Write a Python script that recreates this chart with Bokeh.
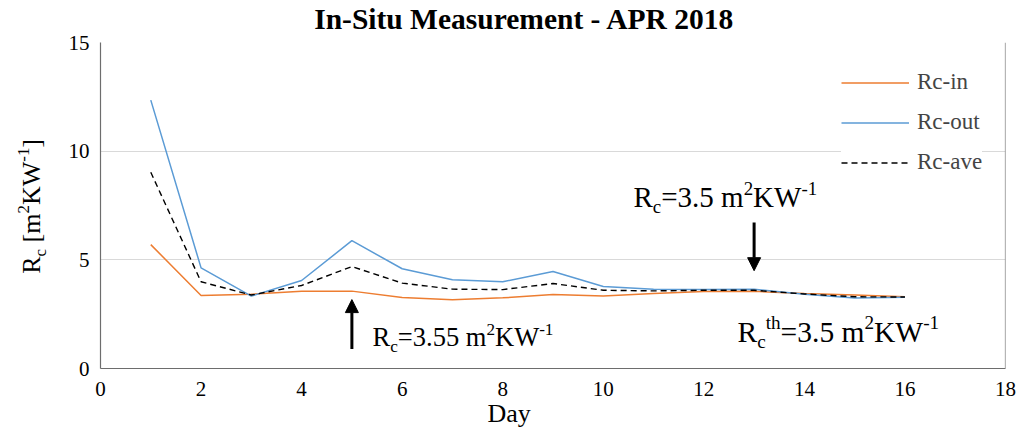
import math
from bokeh.plotting import figure
from bokeh.layouts import row, column
from bokeh.models import (Label, Arrow, NormalHead, FixedTicker, Legend,
                          LegendItem, Span, Title)
from bokeh.embed import file_html
from bokeh.resources import INLINE

# ---------------- data ----------------
days = list(range(1, 17))
rc_in = [5.70, 3.36, 3.42, 3.56, 3.56, 3.27, 3.16, 3.25, 3.40, 3.34, 3.45, 3.54, 3.55, 3.45, 3.38, 3.30]
rc_out = [12.35, 4.63, 3.33, 4.05, 5.88, 4.59, 4.08, 3.99, 4.46, 3.77, 3.65, 3.63, 3.65, 3.42, 3.24, 3.28]
rc_ave = [9.03, 3.99, 3.38, 3.82, 4.69, 3.93, 3.65, 3.63, 3.91, 3.60, 3.57, 3.60, 3.60, 3.43, 3.30, 3.29]
x_ticks = [0, 2, 4, 6, 8, 10, 12, 14, 16, 18]
y_ticks = [0, 5, 10, 15]
series_names = ["Rc-in", "Rc-out", "Rc-ave"]
title_text = "In-Situ Measurement - APR 2018"
x_title = "Day"
y_title = [("R", "n"), ("c", "sub"), (" [m", "n"), ("2", "sup"), ("KW", "n"), ("-1", "sup"), ("]", "n")]
note_low = [("R", "n"), ("c", "sub"), ("=3.55 m", "n"), ("2", "sup"), ("KW", "n"), ("-1", "sup")]
note_high = [("R", "n"), ("c", "sub"), ("=3.5 m", "n"), ("2", "sup"), ("KW", "n"), ("-1", "sup")]
note_th = [("R", "n"), ("c", "sub"), ("th", "sup"), ("=3.5 m", "n"), ("2", "sup"), ("KW", "n"), ("-1", "sup")]
arrow_up_day, arrow_up_from, arrow_up_to = 5, 0.9, 3.17
arrow_dn_day, arrow_dn_from, arrow_dn_to = 13, 6.72, 4.5

SERIF = "'Liberation Serif', 'Times New Roman', serif"
C_IN, C_OUT = "#ED7D31", "#5B9BD5"
BASE_FIX = 0.36  # label boxes sit this many ems below the requested baseline

TW = {'R': .667, 'c': .444, '=': .564, '.': .25, ' ': .25, 'm': .778, 'K': .722,
      'W': .944, '-': .333, 't': .278, 'h': .5, '[': .333, ']': .333}


def tw(s):
    return sum(TW.get(ch, .5) for ch in s)


def rich(fig, pieces, x, y, xo, yo, size, angle=0.0):
    small = size * 0.65
    pos = 0.0
    for txt, kind in pieces:
        fs = size if kind == "n" else small
        lead = len(txt) - len(txt.lstrip(" "))
        pos += lead * TW[' '] * fs
        txt = txt.lstrip(" ")
        shift = 0.0 if kind == "n" else (-0.22 * size if kind == "sub" else 0.42 * size)
        shift += BASE_FIX * fs
        if angle == 0:
            dx, dy = pos, shift
        else:
            dx, dy = -shift, pos
        fig.add_layout(Label(x=x, y=y, x_offset=xo + dx, y_offset=yo + dy, text=txt,
                             text_font=SERIF, text_font_size=f"{fs:.1f}px", angle=angle,
                             text_baseline="alphabetic", text_align="left",
                             text_color="black"))
        pos += tw(txt) * fs


def blank(w, h):
    f = figure(width=w, height=h, x_range=(0, w), y_range=(0, h),
               output_backend="svg", toolbar_location=None,
               x_axis_location=None, y_axis_location=None, min_border=0)
    f.outline_line_color = None
    f.xgrid.visible = False
    f.ygrid.visible = False
    return f


# ---------------- top strip: title ----------------
top = blank(1020, 36)
top.add_layout(Label(x=524, y=6.5, y_offset=BASE_FIX * 29.5, text=title_text,
                     text_font=SERIF, text_font_style="bold", text_font_size="29.5px",
                     text_align="center", text_baseline="alphabetic", text_color="black"))

# ---------------- left strip: y-axis title ----------------
side = blank(60, 399)
rich(side, y_title, 40, 116, 0, 0, 26, angle=math.pi / 2)

# ---------------- main chart ----------------
p = figure(width=960, height=399, x_range=(0, 18), y_range=(0, 15),
           output_backend="svg", toolbar_location=None,
           min_border_left=40, min_border_right=15, min_border_top=12, min_border_bottom=61)
p.outline_line_color = None
p.add_layout(Title(text=x_title, align="left", offset=387, text_font=SERIF,
                   text_color="black",
                   text_font_style="normal", text_font_size="26px", standoff=-3), "below")

for ax in (p.xaxis, p.yaxis):
    ax.major_tick_line_color = None
    ax.minor_tick_line_color = None
    ax.axis_line_color = "#6d6d6d"
    ax.axis_line_width = 1.2
    ax.major_label_text_font = SERIF
    ax.major_label_text_font_size = "21px"
    ax.major_label_text_color = "black"
p.xaxis.ticker = FixedTicker(ticks=x_ticks)
p.yaxis.ticker = FixedTicker(ticks=y_ticks)
p.xaxis.major_label_standoff = 7
p.yaxis.major_label_standoff = 5
p.xgrid.grid_line_color = None
p.ygrid.grid_line_color = "#d9d9d9"
p.ygrid.grid_line_width = 1.2
p.add_layout(Span(location=18, dimension="height", line_color="#6d6d6d", line_width=1.2))

r_in = p.line(days, rc_in, line_color=C_IN, line_width=1.5)
r_out = p.line(days, rc_out, line_color=C_OUT, line_width=1.5)
r_ave = p.line(days, rc_ave, line_color="black", line_width=1.4, line_dash="6 4")

legend = Legend(items=[LegendItem(label=n, renderers=[r]) for n, r in
                       zip(series_names, [r_in, r_out, r_ave])],
                location=(741, 193), glyph_width=68, glyph_height=25,
                label_height=25, spacing=14, padding=10, label_standoff=8,
                label_text_font=SERIF, label_text_font_size="23px",
                border_line_color=None, background_fill_color="white",
                background_fill_alpha=1.0, margin=0)
p.add_layout(legend)

rich(p, note_low, arrow_up_day, 0, 20.6, 22, 26.5)
rich(p, note_high, arrow_dn_day, 0, -120.6, 161.3, 29)
rich(p, note_th, arrow_dn_day, 0, -16.6, 26.3, 29.5)

for d, y0, y1 in [(arrow_up_day, arrow_up_from, arrow_up_to),
                  (arrow_dn_day, arrow_dn_from, arrow_dn_to)]:
    p.add_layout(Arrow(end=NormalHead(size=13, fill_color="black", line_color="black"),
                       x_start=d, y_start=y0, x_end=d, y_end=y1,
                       line_width=3, line_color="black"))

layout = column(top, row(side, p, spacing=0, margin=(-6, 0, 0, 0)), spacing=0)
open("out.html", "w").write(file_html(layout, INLINE))
